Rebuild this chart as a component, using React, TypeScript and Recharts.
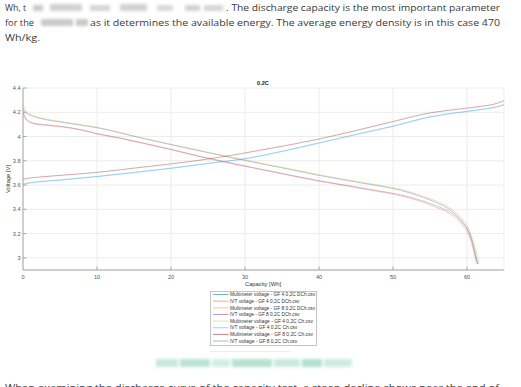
import React from 'react';
import { LineChart, Line, XAxis, YAxis, CartesianGrid } from 'recharts';

// ---------- data ----------
const xTicks = [0, 10, 20, 30, 40, 50, 60];
const yTicks = [3, 3.2, 3.4, 3.6, 3.8, 4, 4.2, 4.4];
const yLabels = ['3', '3.2', '3.4', '3.6', '3.8', '4', '4.2', '4.4'];

const capMmGF4Dch = [0, 0.3, 0.8, 1.5, 3, 5, 8, 10, 13, 16, 20, 24, 28, 32, 36, 40, 44, 48, 51, 54, 56, 57.5, 58.5, 59.5, 60.2, 60.7, 61.0, 61.3, 61.5];
const vMmGF4Dch = [4.23, 4.2, 4.18, 4.165, 4.14, 4.12, 4.092, 4.073, 4.032, 3.987, 3.933, 3.88, 3.828, 3.778, 3.73, 3.68, 3.636, 3.594, 3.558, 3.5, 3.452, 3.405, 3.358, 3.29, 3.22, 3.14, 3.07, 2.99, 2.95];

const capIvtGF4Dch = [0, 0.3, 0.8, 1.5, 3, 5, 8, 10, 13, 16, 20, 24, 28, 32, 36, 40, 44, 48, 51, 54, 56, 57.5, 58.5, 59.5, 60.2, 60.7, 61.0, 61.2, 61.35];
const vIvtGF4Dch = [4.19, 4.15, 4.12, 4.105, 4.093, 4.081, 4.051, 4.021, 3.986, 3.946, 3.891, 3.832, 3.779, 3.729, 3.68, 3.632, 3.59, 3.547, 3.512, 3.46, 3.412, 3.37, 3.328, 3.26, 3.195, 3.1, 3.03, 2.97, 2.95];

const capMmGF8Dch = [0, 0.3, 0.8, 1.5, 3, 5, 8, 10, 13, 16, 20, 24, 28, 32, 36, 40, 44, 48, 51, 54, 56, 57.5, 58.5, 59.5, 60.2, 60.7, 61.1, 61.4, 61.65];
const vMmGF8Dch = [4.27, 4.22, 4.19, 4.17, 4.145, 4.125, 4.095, 4.076, 4.035, 3.99, 3.937, 3.884, 3.832, 3.782, 3.735, 3.685, 3.641, 3.6, 3.566, 3.51, 3.465, 3.42, 3.375, 3.31, 3.245, 3.17, 3.09, 3.02, 2.96];

const capIvtGF8Dch = [0, 0.3, 0.8, 1.5, 3, 5, 8, 10, 13, 16, 20, 24, 28, 32, 36, 40, 44, 48, 51, 54, 56, 57.5, 58.5, 59.5, 60.2, 60.7, 61.0, 61.25, 61.45];
const vIvtGF8Dch = [4.21, 4.16, 4.125, 4.11, 4.097, 4.085, 4.055, 4.025, 3.99, 3.95, 3.895, 3.836, 3.783, 3.733, 3.684, 3.636, 3.595, 3.553, 3.52, 3.47, 3.425, 3.385, 3.345, 3.28, 3.22, 3.13, 3.05, 2.99, 2.95];

const capCh = [0, 0.5, 2, 5, 10, 15, 20, 25, 30, 35, 40, 45, 50, 55, 58, 60, 62, 64, 65];
const vMmGF4Ch = [3.645, 3.652, 3.662, 3.677, 3.702, 3.737, 3.772, 3.812, 3.862, 3.917, 3.977, 4.047, 4.121, 4.192, 4.217, 4.232, 4.247, 4.27, 4.292];
const vIvtGF4Ch = [3.605, 3.612, 3.625, 3.64, 3.669, 3.702, 3.737, 3.777, 3.815, 3.876, 3.945, 4.015, 4.083, 4.16, 4.19, 4.205, 4.222, 4.243, 4.26];
const vMmGF8Ch = [3.648, 3.655, 3.665, 3.68, 3.705, 3.74, 3.775, 3.815, 3.865, 3.92, 3.98, 4.05, 4.124, 4.195, 4.22, 4.235, 4.25, 4.273, 4.296];
const vIvtGF8Ch = [3.608, 3.615, 3.628, 3.643, 3.672, 3.705, 3.74, 3.78, 3.819, 3.88, 3.949, 4.019, 4.087, 4.163, 4.193, 4.208, 4.225, 4.246, 4.264];

const seriesNames = [
  'Multimeter voltage - GF 4 0,2C DCh.csv',
  'IVT voltage - GF 4 0,2C DCh.csv',
  'Multimeter voltage - GF 8 0,2C DCh.csv',
  'IVT voltage - GF 8 0,2C DCh.csv',
  'Multimeter voltage - GF 4 0,2C Ch.csv',
  'IVT voltage - GF 4 0,2C Ch.csv',
  'Multimeter voltage - GF 8 0,2C Ch.csv',
  'IVT voltage - GF 8 0,2C Ch.csv',
];
const seriesCaps = [capMmGF4Dch, capIvtGF4Dch, capMmGF8Dch, capIvtGF8Dch, capCh, capCh, capCh, capCh];
const seriesVolts = [vMmGF4Dch, vIvtGF4Dch, vMmGF8Dch, vIvtGF8Dch, vMmGF4Ch, vIvtGF4Ch, vMmGF8Ch, vIvtGF8Ch];
const seriesColors = ['#0072BD', '#D95319', '#EDB120', '#7E2F8E', '#77AC30', '#4DBEEE', '#A2142F', '#0072BD'];
const seriesOpacity = [0.35, 0.3, 0.4, 0.3, 0.1, 0.4, 0.35, 0.22];

// ---------- layout ----------
const W = 521;
const H = 387;
const PLOT_LEFT = 23;
const PLOT_TOP = 88;
const PLOT_BOTTOM = 270;
const PLOT_RIGHT = 504;

const axisColor = '#a8a8a8';
const tickText = '#555';

const XTick = (props: any) => {
  const { x, y, payload } = props;
  return (
    <g>
      {payload.value !== 0 && <line x1={x} x2={x} y1={y} y2={y - 3.5} stroke={axisColor} strokeWidth={1} />}
      <text x={x} y={y + 8.5} textAnchor="middle" fontSize={5.6} fill={tickText} fontFamily="Liberation Sans, Arial, sans-serif">
        {payload.value}
      </text>
    </g>
  );
};

const YTick = (props: any) => {
  const { x, y, payload } = props;
  const idx = yTicks.indexOf(payload.value);
  return (
    <g>
      <line x1={x} x2={x + 3.5} y1={y} y2={y} stroke={axisColor} strokeWidth={1} />
      <text x={x - 2.5} y={y + 2} textAnchor="end" fontSize={5.6} fill={tickText} fontFamily="Liberation Sans, Arial, sans-serif">
        {idx >= 0 ? yLabels[idx] : payload.value}
      </text>
    </g>
  );
};

const docFont = '"Open Sans", Lato, sans-serif';
const docColor = '#3a3a3a';

const Overlay = () => (
  <svg width={W} height={H} style={{ position: 'absolute', left: 0, top: 0, pointerEvents: 'none' }}>
    <defs>
      <filter id="blur" x="-20%" y="-50%" width="140%" height="200%">
        <feGaussianBlur stdDeviation="1.4" />
      </filter>
    </defs>
    {/* document paragraph */}
    <text x={5} y={11} fontSize={9.4} fill={docColor} fontFamily={docFont} textLength={21} lengthAdjust="spacingAndGlyphs">Wh, t</text>
    <g filter="url(#blur)" fill="#b4b4b4">
      <rect x={33} y={5} width={10} height={6} opacity={0.7} />
      <rect x={50} y={4} width={32} height={7} opacity={0.6} />
      <rect x={90} y={5} width={20} height={6} opacity={0.55} />
      <rect x={120} y={4} width={27} height={7} opacity={0.6} />
      <rect x={157} y={5} width={16} height={6} opacity={0.5} />
      <rect x={185} y={5} width={15} height={6} opacity={0.6} />
      <rect x={204} y={5} width={19} height={6} opacity={0.55} />
      <rect x={41} y={19} width={32} height={7} opacity={0.7} />
      <rect x={76} y={19} width={12} height={7} opacity={0.7} />
    </g>
    <text x={226} y={11} fontSize={9.4} fill={docColor} fontFamily={docFont} textLength={274} lengthAdjust="spacingAndGlyphs">
      . The discharge capacity is the most important parameter
    </text>
    <text x={5} y={25.5} fontSize={9.4} fill={docColor} fontFamily={docFont} textLength={29} lengthAdjust="spacingAndGlyphs">for the</text>
    <text x={90} y={25.5} fontSize={9.4} fill={docColor} fontFamily={docFont} textLength={410} lengthAdjust="spacingAndGlyphs">
      as it determines the available energy. The average energy density is in this case 470
    </text>
    <text x={5} y={40.5} fontSize={9.4} fill={docColor} fontFamily={docFont} textLength={35} lengthAdjust="spacingAndGlyphs">Wh/kg.</text>

    {/* chart texts */}
    <text x={263} y={85} textAnchor="middle" fontSize={5.6} fontWeight="bold" fill="#222" fontFamily="Liberation Sans, Arial, sans-serif">0.2C</text>
    <text x={263} y={285.5} textAnchor="middle" fontSize={5.8} fill="#333" fontFamily="Liberation Sans, Arial, sans-serif">Capacity [Wh]</text>
    <text x={10} y={179} textAnchor="middle" fontSize={5.8} fill="#333" fontFamily="Liberation Sans, Arial, sans-serif" transform="rotate(-90 10 179)">Voltage [V]</text>

    {/* legend */}
    <rect x={210.5} y={291.5} width={106} height={54} fill="#fff" stroke="#c4c4c4" strokeWidth={1} />
    {seriesNames.map((n, i) => {
      const yy = 294.5 + i * 6.65;
      return (
        <g key={n}>
          <line x1={213} x2={228.5} y1={yy} y2={yy} stroke={seriesColors[i]} strokeOpacity={Math.min(1, seriesOpacity[i] + 0.2)} strokeWidth={1} />
          <text x={230} y={yy + 1.7} fontSize={4.7} fill="#333" fontFamily="Liberation Sans, Arial, sans-serif" textLength={n.length * 2.24} lengthAdjust="spacingAndGlyphs">{n}</text>
        </g>
      );
    })}

    {/* bottom of page */}
    <rect x={210} y={351} width={80} height={1} fill="#ececec" />
    <g filter="url(#blur)">
      <rect x={156} y={359} width={22} height={8} fill="#c6e9dd" />
      <rect x={180} y={359} width={30} height={8} fill="#b9e4d4" />
      <rect x={212} y={359} width={18} height={8} fill="#d2eee4" />
      <rect x={232} y={359} width={40} height={8} fill="#b5e2d1" />
      <rect x={274} y={359} width={26} height={8} fill="#c8eadf" />
      <rect x={302} y={359} width={20} height={8} fill="#b2e0ce" />
      <rect x={324} y={359} width={28} height={8} fill="#cdece1" />
    </g>
    <text x={5} y={391} fontSize={9.4} fill={docColor} fontFamily={docFont} textLength={494} lengthAdjust="spacingAndGlyphs">
      When examining the discharge curve of the capacity test, a steep decline shows near the end of
    </text>
  </svg>
);

export default function App() {
  return (
    <div style={{ position: 'fixed', left: 0, top: 0, width: W, height: H, background: '#fff', overflow: 'hidden' }}>
      <LineChart
        width={W}
        height={H}
        margin={{ top: PLOT_TOP, right: W - PLOT_RIGHT, left: 0, bottom: 0 }}
      >
        <CartesianGrid stroke="#ececec" strokeWidth={1} />
        <XAxis
          type="number"
          dataKey="c"
          domain={[0, 65]}
          ticks={xTicks}
          height={H - PLOT_BOTTOM}
          axisLine={{ stroke: axisColor }}
          tickLine={false}
          tickSize={0}
          tickMargin={0}
          tick={<XTick />}
          allowDataOverflow
        />
        <YAxis
          type="number"
          domain={[2.9, 4.4]}
          ticks={yTicks}
          width={PLOT_LEFT}
          axisLine={{ stroke: axisColor }}
          tickLine={false}
          tickSize={0}
          tickMargin={0}
          tick={<YTick />}
          allowDataOverflow
        />
        {seriesNames.map((n, i) => (
          <Line
            key={n}
            name={n}
            data={seriesCaps[i].map((c, k) => ({ c, v: seriesVolts[i][k] }))}
            dataKey="v"
            type="monotone"
            stroke={seriesColors[i]}
            strokeOpacity={seriesOpacity[i]}
            strokeWidth={1}
            dot={false}
            activeDot={false}
            isAnimationActive={false}
          />
        ))}
      </LineChart>
      <Overlay />
    </div>
  );
}
